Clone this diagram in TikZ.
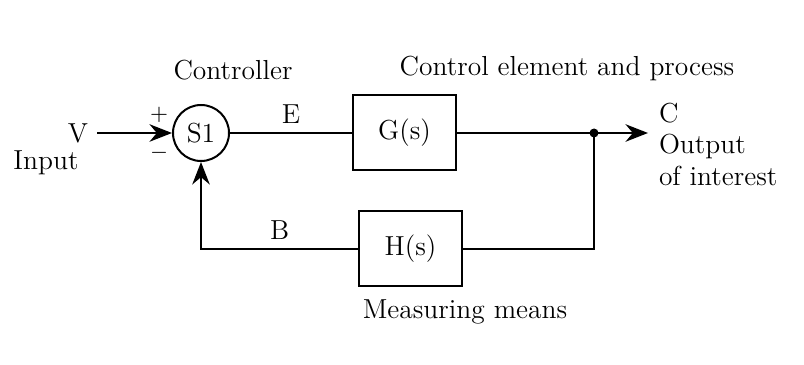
\documentclass[tikz,border=0pt]{standalone}
\usetikzlibrary{arrows.meta}

\begin{document}
\begin{tikzpicture}[x=0.4pt,y=-0.4pt,font=\fontsize{11}{13}\selectfont,
    line width=0.8pt,>={Stealth[length=9pt,width=7pt]},
    block/.style={rectangle,draw,minimum width=41pt,minimum height=30pt,inner sep=0pt},
    sum/.style={circle,draw,minimum size=22.4pt,inner sep=0pt}]
    \useasboundingbox (0,0) rectangle (804,365);
    % blocks
    \node[sum] (s1) at (201,133) {S1};
    \node[block] (g) at (404.5,133) {G(s)};
    \node[block] (h) at (410.5,248.5) {H(s)};
    % signals and captions
    \node (v) at (78,133) {V};
    \node (input) at (46,163) {Input};
    \node (plus) at (159,115) {\small$+$};
    \node (minus) at (159,153) {\small$-$};
    \node (ctrl) at (233,70) {Controller};
    \node (proc) at (567,68) {Control element and process};
    \node[anchor=west,inner sep=0pt] (c) at (658,113) {C};
    \node[anchor=north west,align=left,inner sep=0pt] (out) at (658,133) {Output\\of interest};
    \node (meas) at (465,312) {Measuring means};
    \coordinate (dot) at (594,133);
    \coordinate (cend) at (648,133);
    % connectors
    \draw[->] (v) -- (s1);
    \draw (s1) -- node[above] {E} (g);
    \draw (g) -- (dot);
    \draw[->] (dot) -- (cend);
    \fill (dot) circle (1.8pt);
    \draw (dot) |- (h);
    \draw[->] (h) -| node[pos=0.25,above] {B} (s1);
\end{tikzpicture}
\end{document}
